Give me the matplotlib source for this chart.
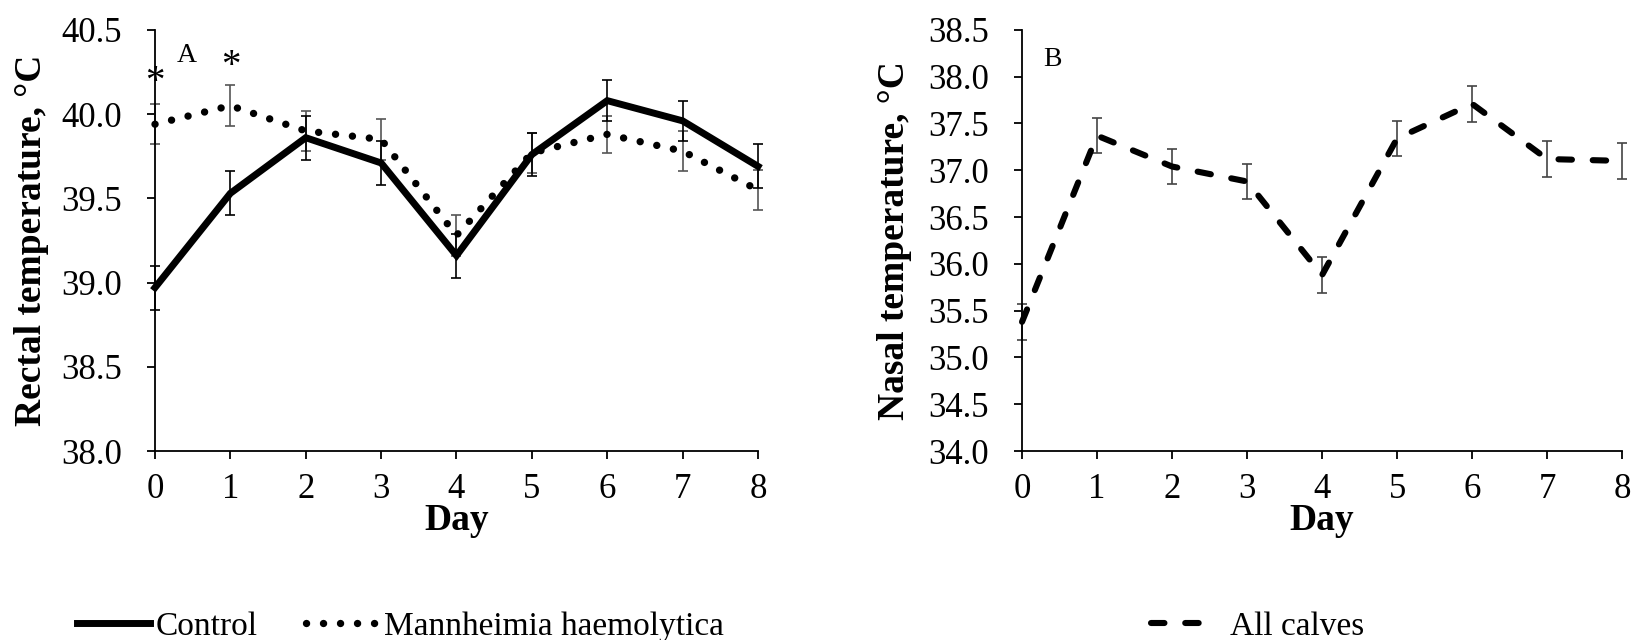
import matplotlib
matplotlib.use('Agg')
import matplotlib.pyplot as plt
import numpy as np

plt.rcParams['font.family'] = ['Liberation Serif', 'DejaVu Serif']

days = [0, 1, 2, 3, 4, 5, 6, 7, 8]

control = [38.97, 39.53, 39.86, 39.71, 39.16, 39.76, 40.08, 39.96, 39.69]
control_err = [0.13, 0.13, 0.13, 0.13, 0.13, 0.13, 0.12, 0.12, 0.13]
mh = [39.94, 40.05, 39.90, 39.85, 39.28, 39.77, 39.88, 39.78, 39.55]
mh_err = [0.12, 0.12, 0.12, 0.12, 0.12, 0.12, 0.11, 0.12, 0.12]

nasal = [35.38, 37.37, 37.04, 36.88, 35.88, 37.34, 37.71, 37.12, 37.10]
nasal_err = [0.19, 0.19, 0.19, 0.19, 0.19, 0.19, 0.19, 0.19, 0.19]

star_days = [0, 1]
star_y = [40.19, 40.28]

tick_fs = 25
label_fs = 27
legend_fs = 24

fig = plt.figure(figsize=(16.35, 6.4), dpi=100)
ax1 = fig.add_axes([0.0948, 0.2953, 0.3688, 0.658])
ax2 = fig.add_axes([0.6251, 0.2953, 0.367, 0.658])


def style_axis(ax, ylim, yticks, ylabel, ylab_x):
    ax.set_xlim(0, 8)
    ax.set_ylim(*ylim)
    ax.set_xticks(days)
    ax.set_yticks(yticks)
    ax.set_yticklabels(['%.1f' % v for v in yticks])
    ax.spines['top'].set_visible(False)
    ax.spines['right'].set_visible(False)
    for s in ('left', 'bottom'):
        ax.spines[s].set_linewidth(1.3)
        ax.spines[s].set_color('black')
    ax.tick_params(direction='out', length=6, width=1.3, labelsize=tick_fs)
    ax.tick_params(axis='y', pad=18)
    ax.tick_params(axis='x', pad=10)
    ax.set_xlabel('Day', fontsize=label_fs, fontweight='bold', va='center')
    ax.xaxis.set_label_coords(0.5, -0.165)
    ax.set_ylabel(ylabel, fontsize=label_fs, fontweight='bold', va='center')
    ax.yaxis.set_label_coords(ylab_x, 0.5)


# panel A
ax1.errorbar(days, mh, yerr=mh_err, fmt='none', ecolor='#555555',
             elinewidth=1.2, capsize=3.5, capthick=1.2, clip_on=False, zorder=2)
ax1.errorbar(days, control, yerr=control_err, fmt='none', ecolor='black',
             elinewidth=1.2, capsize=3.5, capthick=1.2, clip_on=False, zorder=2)
l_ctrl, = ax1.plot(days, control, color='black', lw=5, solid_joinstyle='miter',
                   clip_on=False, zorder=3, label='Control')
l_mh, = ax1.plot(days, mh, color='black', lw=5.3, linestyle=(0, (0.01, 2.3)),
                 dash_capstyle='round', clip_on=False, zorder=3,
                 label='Mannheimia haemolytica')
for d, y in zip(star_days, star_y):
    ax1.text(d, y, '*', fontsize=28, ha='center', va='center')
ax1.text(0.42, 40.35, 'A', fontsize=20, ha='center', va='center')
style_axis(ax1, (38.0, 40.5), np.arange(38.0, 40.51, 0.5),
           'Rectal temperature, °C', -0.204)

# panel B
ax2.errorbar(days, nasal, yerr=nasal_err, fmt='none', ecolor='#444444',
             elinewidth=1.2, capsize=3.5, capthick=1.2, clip_on=False, zorder=2)
l_all, = ax2.plot(days, nasal, color='black', lw=4.4, linestyle=(0, (2.2, 3.4)),
                  dash_capstyle='round', clip_on=False, zorder=3, label='All calves')
ax2.text(0.40, 38.18, 'B', fontsize=20, ha='center', va='center')
style_axis(ax2, (34.0, 38.5), np.arange(34.0, 38.51, 0.5),
           'Nasal temperature, °C', -0.212)

fig.legend(handles=[l_ctrl, l_mh], loc='center left', bbox_to_anchor=(0.047, 0.021),
           ncol=2, frameon=False, fontsize=legend_fs, handlelength=2.2,
           handletextpad=0.15, columnspacing=1.45, borderpad=0, borderaxespad=0)
fig.legend(handles=[l_all], loc='center left', bbox_to_anchor=(0.704, 0.021),
           frameon=False, fontsize=legend_fs, handlelength=1.95,
           handletextpad=0.42, borderpad=0, borderaxespad=0)

fig.savefig('out.png', dpi=100)
